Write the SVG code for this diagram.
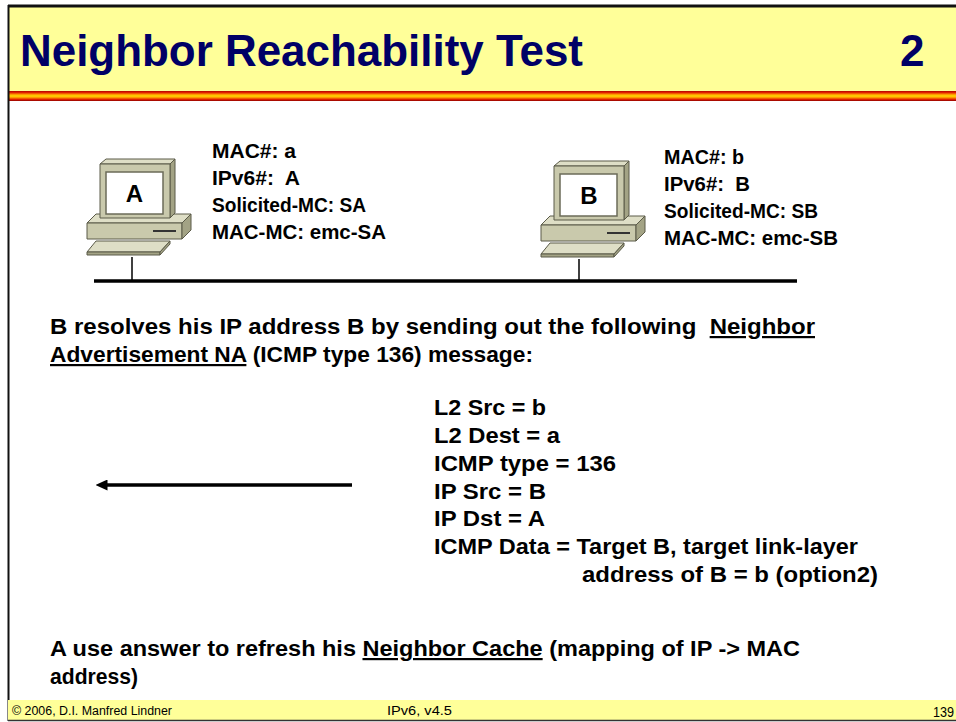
<svg xmlns="http://www.w3.org/2000/svg" width="956" height="722" viewBox="0 0 956 722">
  <style>
    .t { font-family: "Liberation Sans", Arial, sans-serif; font-weight: bold; fill: #000; }
    .title { font-family: "Liberation Sans", Arial, sans-serif; font-weight: bold; fill: #000066; font-size: 44px; }
    .info { font-size: 20px; }
    .body { font-size: 22px; }
    .foot { font-family: "Liberation Sans Narrow", "Liberation Sans", Arial, sans-serif; fill: #000; }
    .face { stroke: #5a5a48; stroke-width: 1; stroke-linejoin: round; }
    .front { fill: #c9c9ac; }
    .top { fill: #dedec6; }
    .side { fill: #a3a385; }
  </style>
  <defs>
    <linearGradient id="stripe" x1="0" y1="0" x2="0" y2="1">
      <stop offset="0" stop-color="#b00000"/>
      <stop offset="0.15" stop-color="#e02000"/>
      <stop offset="0.35" stop-color="#ff9900"/>
      <stop offset="0.5" stop-color="#ffdd00"/>
      <stop offset="0.65" stop-color="#ff9900"/>
      <stop offset="0.85" stop-color="#e02000"/>
      <stop offset="1" stop-color="#900000"/>
    </linearGradient>
    <marker id="arrow" viewBox="0 0 12 11" refX="0.5" refY="5.5" markerWidth="12" markerHeight="11" markerUnits="userSpaceOnUse" orient="auto">
      <path d="M0,0 L12,5.5 L0,11 Z" fill="#000"/>
    </marker>
    <!-- desktop workstation: base, keyboard, monitor with white screen -->
    <g id="pc">
      <polygon class="face top" points="87,223 96,214 191,214 182,223"/>
      <rect class="face front" x="87" y="223" width="95" height="16"/>
      <polygon class="face side" points="182,223 191,214 191,230 182,239"/>
      <line x1="153" y1="231" x2="176" y2="231" stroke="#333" stroke-width="2"/>
      <polygon class="face top" points="96,241 170,241 160,252 87,252"/>
      <polygon class="face side" points="87,252 160,252 160,255 87,255"/>
      <polygon class="face side" points="170,241 170,244 160,255 160,252"/>
      <polygon class="face top" points="100,164 106,159 175,159 170,164"/>
      <polygon class="face side" points="170,164 175,159 175,213 170,218"/>
      <rect class="face front" x="100" y="164" width="70" height="54"/>
      <rect x="106" y="172" width="57" height="42" fill="#fff" stroke="#6b6b58" stroke-width="1.5"/>
    </g>
  </defs>

  <!-- page background -->
  <rect x="0" y="0" width="956" height="722" fill="#fff"/>

  <!-- header band -->
  <rect x="8" y="6" width="948" height="85" fill="#ffff99"/>
  <rect x="8" y="91" width="948" height="10" fill="url(#stripe)"/>
  <line x1="8" y1="6" x2="956" y2="6" stroke="#111" stroke-width="3"/>
  <text class="title" x="20" y="66" textLength="563" lengthAdjust="spacingAndGlyphs">Neighbor Reachability Test</text>
  <text class="title" x="900" y="66">2</text>

  <!-- left frame edge -->
  <line x1="8.5" y1="5" x2="8.5" y2="721" stroke="#111" stroke-width="2"/>

  <!-- host A -->
  <g id="hostA">
    <use href="#pc"/>
    <text class="t" x="134.5" y="202" font-size="24" text-anchor="middle">A</text>
    <text class="t info" x="212" y="158" textLength="84" lengthAdjust="spacingAndGlyphs">MAC#: a</text>
    <text class="t info" x="212" y="185" xml:space="preserve" textLength="88" lengthAdjust="spacingAndGlyphs">IPv6#:  A</text>
    <text class="t info" x="212" y="212" textLength="154" lengthAdjust="spacingAndGlyphs">Solicited-MC: SA</text>
    <text class="t info" x="212" y="239" textLength="174" lengthAdjust="spacingAndGlyphs">MAC-MC: emc-SA</text>
  </g>

  <!-- host B -->
  <g id="hostB">
    <use href="#pc" transform="translate(454,2)"/>
    <text class="t" x="589" y="204" font-size="24" text-anchor="middle">B</text>
    <text class="t info" x="664" y="164" textLength="80" lengthAdjust="spacingAndGlyphs">MAC#: b</text>
    <text class="t info" x="664" y="191" xml:space="preserve" textLength="86" lengthAdjust="spacingAndGlyphs">IPv6#:  B</text>
    <text class="t info" x="664" y="218" textLength="154" lengthAdjust="spacingAndGlyphs">Solicited-MC: SB</text>
    <text class="t info" x="664" y="245" textLength="174" lengthAdjust="spacingAndGlyphs">MAC-MC: emc-SB</text>
  </g>

  <!-- shared link and message arrow -->
  <g id="connectors" stroke="#000" fill="none">
    <line x1="94" y1="281" x2="797" y2="281" stroke-width="3.5"/>
    <line x1="132" y1="257" x2="132" y2="281" stroke-width="1.5"/>
    <line x1="579" y1="259" x2="579" y2="281" stroke-width="1.5"/>
    <line x1="352" y1="485" x2="107" y2="485" stroke-width="3.5" marker-end="url(#arrow)"/>
  </g>

  <!-- description -->
  <g id="description">
    <text class="t body" x="50" y="334" xml:space="preserve" textLength="765" lengthAdjust="spacingAndGlyphs">B resolves his IP address B by sending out the following  <tspan text-decoration="underline">Neighbor</tspan></text>
    <text class="t body" x="50" y="362" textLength="483" lengthAdjust="spacingAndGlyphs"><tspan text-decoration="underline">Advertisement NA</tspan> (ICMP type 136) message:</text>
  </g>

  <!-- neighbor advertisement fields -->
  <g id="message">
    <text class="t body" x="434" y="415" textLength="112" lengthAdjust="spacingAndGlyphs">L2 Src = b</text>
    <text class="t body" x="434" y="443" textLength="126" lengthAdjust="spacingAndGlyphs">L2 Dest = a</text>
    <text class="t body" x="434" y="471" textLength="182" lengthAdjust="spacingAndGlyphs">ICMP type = 136</text>
    <text class="t body" x="434" y="499" textLength="112" lengthAdjust="spacingAndGlyphs">IP Src = B</text>
    <text class="t body" x="434" y="526" textLength="111" lengthAdjust="spacingAndGlyphs">IP Dst = A</text>
    <text class="t body" x="434" y="554" textLength="424" lengthAdjust="spacingAndGlyphs">ICMP Data = Target B, target link-layer</text>
    <text class="t body" x="582" y="582" textLength="296" lengthAdjust="spacingAndGlyphs">address of B = b (option2)</text>
  </g>

  <!-- conclusion -->
  <g id="conclusion">
    <text class="t body" x="50" y="656" textLength="750" lengthAdjust="spacingAndGlyphs">A use answer to refresh his <tspan text-decoration="underline">Neighbor Cache</tspan> (mapping of IP -&gt; MAC</text>
    <text class="t body" x="50" y="684" textLength="88" lengthAdjust="spacingAndGlyphs">address)</text>
  </g>

  <!-- footer band -->
  <rect x="8" y="700" width="948" height="20" fill="#ffff99"/>
  <line x1="8" y1="720.5" x2="956" y2="720.5" stroke="#333" stroke-width="1.5"/>
  <text class="foot" x="12" y="715" style="font-size:12.5px" textLength="160" lengthAdjust="spacingAndGlyphs">© 2006, D.I. Manfred Lindner</text>
  <text class="foot" x="387" y="715" style="font-size:12.5px" textLength="65" lengthAdjust="spacingAndGlyphs">IPv6, v4.5</text>
  <text class="foot" x="933" y="717" style="font-size:14px" textLength="21" lengthAdjust="spacingAndGlyphs">139</text>
</svg>
